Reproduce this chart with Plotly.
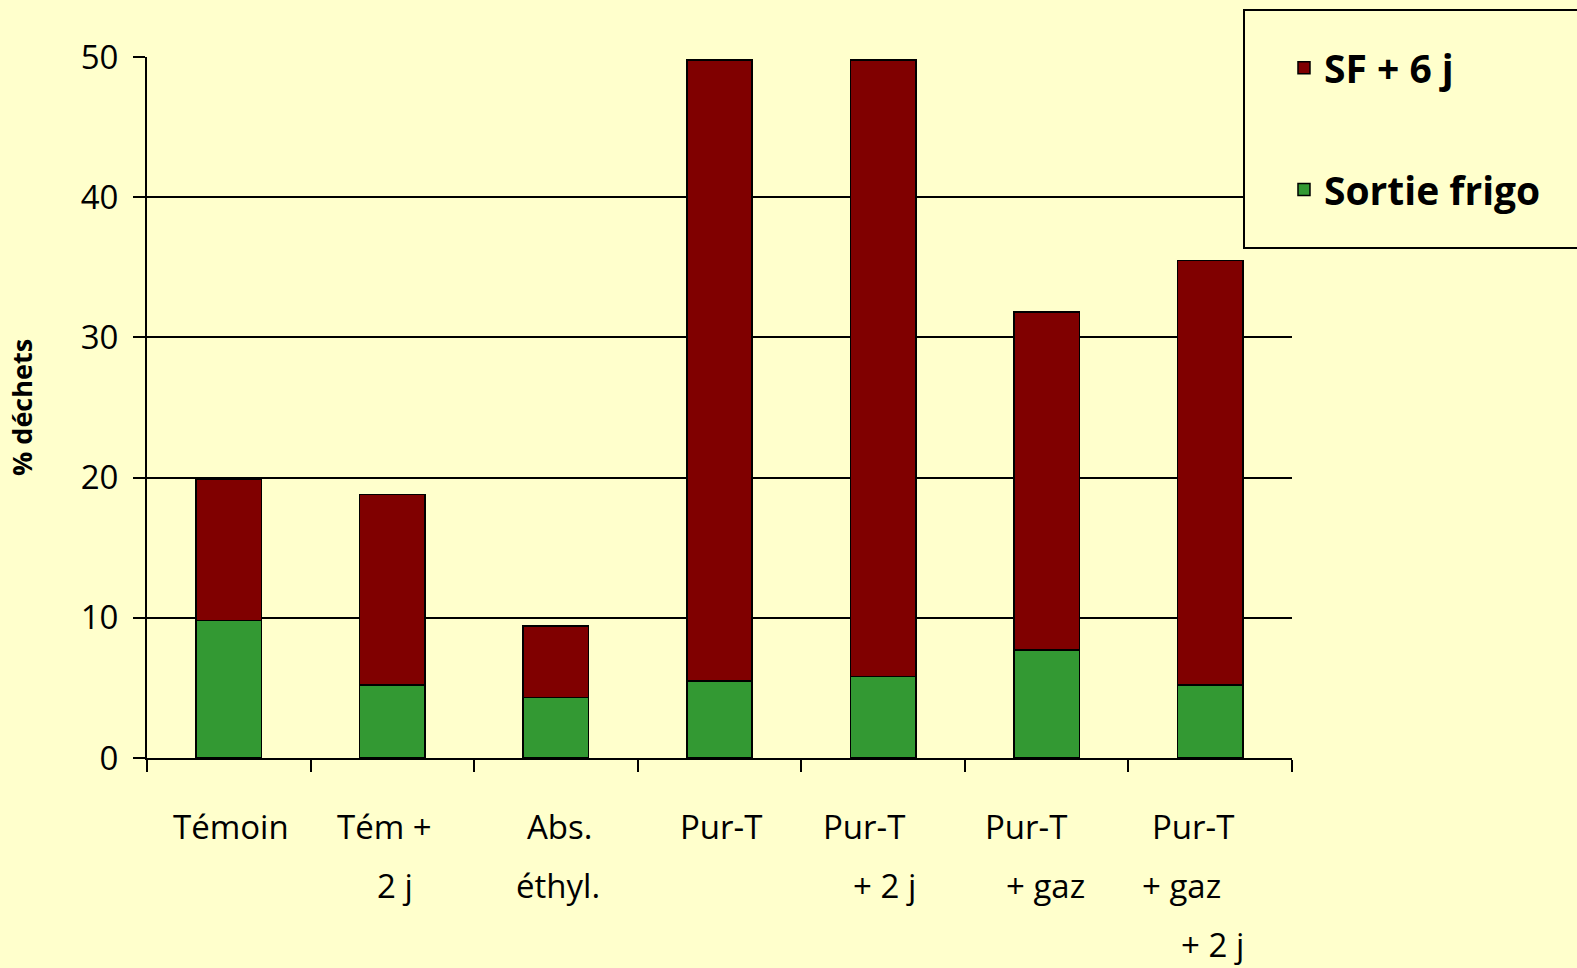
import plotly.graph_objects as go

categories = ["Témoin", "Tém + 2 j", "Abs. éthyl.", "Pur-T", "Pur-T + 2 j", "Pur-T + gaz", "Pur-T + gaz + 2 j"]
label_lines = [["Témoin"], ["Tém +", "2 j"], ["Abs.", "éthyl."], ["Pur-T"], ["Pur-T", "+ 2 j"],
               ["Pur-T", "+ gaz"], ["Pur-T", "+ gaz", "+ 2 j"]]
sortie_frigo = [9.8, 5.2, 4.3, 5.5, 5.8, 7.7, 5.2]
sf_plus_6j = [10.1, 13.6, 5.1, 44.3, 44.0, 24.1, 30.3]
y_ticks = [0, 10, 20, 30, 40, 50]

# text offsets (style only)
label_xshift = [[2], [-8, 3], [4, 2], [1], [-19, 1], [-21, -1], [-17, -29, 2]]

BG = "#FFFFCC"
FONT = "Open Sans"

fig = go.Figure()
fig.add_trace(go.Bar(x=categories, y=sortie_frigo, name="Sortie frigo",
                     marker=dict(color="#339933", line=dict(color="black", width=1.5)),
                     legendgroup="a", legendrank=2))
fig.add_trace(go.Bar(x=categories, y=sf_plus_6j, name="SF + 6 j",
                     marker=dict(color="#800000", line=dict(color="black", width=1.5)),
                     legendgroup="b", legendrank=1))

annotations = []
for i, (cat, lines) in enumerate(zip(categories, label_lines)):
    for j, line in enumerate(lines):
        annotations.append(dict(x=cat, xref="x", y=0, yref="paper", text=line, showarrow=False,
                                xanchor="center", yanchor="middle", yshift=-68 - 59 * j,
                                xshift=label_xshift[i][j],
                                font=dict(family=FONT, size=33, color="black")))

fig.update_layout(
    width=1577, height=968,
    barmode="stack", bargap=0.6,
    paper_bgcolor=BG, plot_bgcolor=BG,
    margin=dict(l=147, r=285, t=57, b=210),
    font=dict(family=FONT, color="black"),
    showlegend=True,
    legend=dict(x=0.993, y=1.03, xanchor="left", yanchor="top",
                traceorder="grouped", tracegroupgap=68,
                bgcolor="rgba(0,0,0,0)", borderwidth=0,
                font=dict(family=FONT, size=39, color="black", weight="bold")),
    annotations=annotations,
    shapes=[dict(type="rect", xref="paper", yref="paper",
                 x0=(1244 - 147) / 1145, x1=(1600 - 147) / 1145,
                 y0=(758 - 248) / 701, y1=(758 - 10) / 701,
                 fillcolor=BG, line=dict(color="black", width=2), layer="above")],
)
fig.update_xaxes(showline=True, linecolor="black", linewidth=2, ticks="outside", ticklen=12,
                 tickwidth=2, tickcolor="black", tickson="boundaries", showticklabels=False,
                 showgrid=False, range=[-0.5, 6.5])
fig.update_yaxes(range=[0, 50], tickvals=y_ticks, showline=True, linecolor="black", linewidth=2,
                 ticks="outside", ticklen=12, tickwidth=2, tickcolor="black",
                 showgrid=True, gridcolor="black", gridwidth=2, zeroline=False,
                 tickfont=dict(family=FONT, size=33, color="black"), ticklabelstandoff=8,
                 title=dict(text="% déchets", standoff=40,
                            font=dict(family=FONT, size=27, color="black", weight="bold")))

fig.write_html("out.html", config={"displayModeBar": False},
               post_script="document.body.style.margin='0';document.body.style.background='#FFFFCC';")
